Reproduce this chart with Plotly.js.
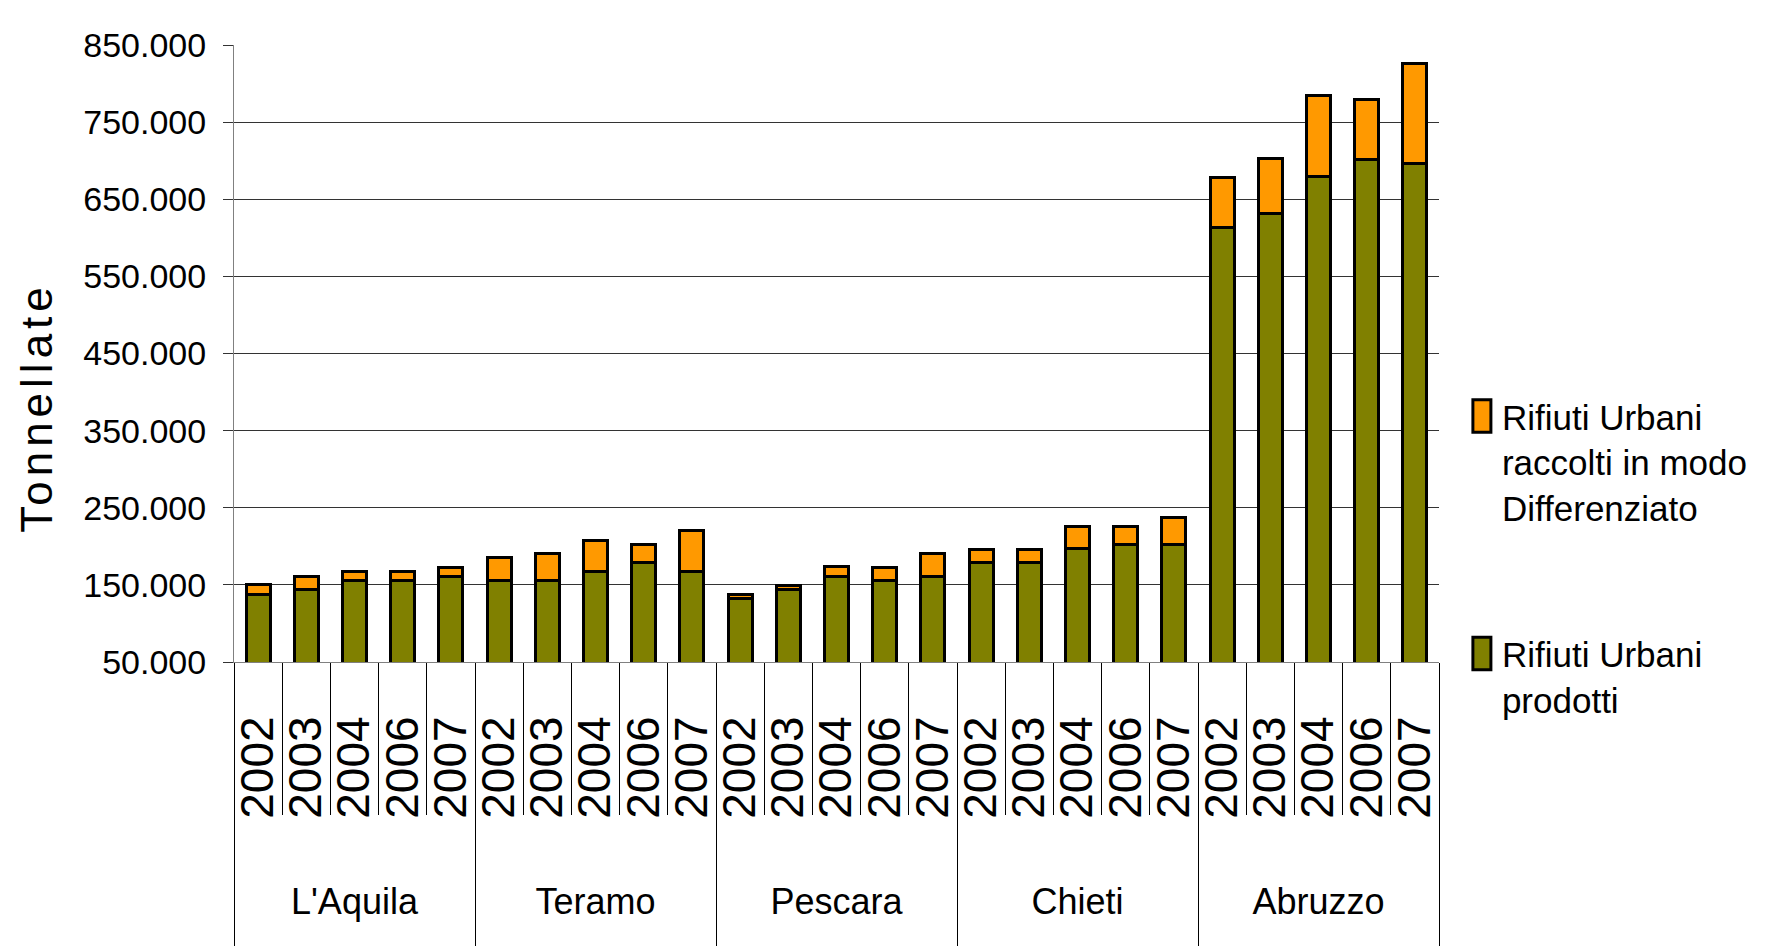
<!DOCTYPE html>
<html><head><meta charset="utf-8">
<script src="https://cdn.plot.ly/plotly-3.0.1.min.js"></script>
<style>
html,body{margin:0;padding:0;background:#fff;}
#chart{width:1773px;height:946px;}
.ytitle{letter-spacing:5px; translate:4px 54px;}
g.xtick2 text{font-size:36px !important; translate:8px 45px;}
path.xdivider{transform-box:fill-box; transform-origin:50% 0; scale:1 1.35;}
.legendpoints path{scale:1.5 2.7; translate:-10px 0; vector-effect:non-scaling-stroke; stroke-width:3px !important;}
</style>
</head><body><div id="chart"></div>
<script>
const groups = ["L'Aquila","Teramo","Pescara","Chieti","Abruzzo"];
const years = ["2002","2003","2004","2006","2007"];
// Rifiuti Urbani prodotti (t)
const prodotti = [
  138000,144000,156000,156000,161500,
  156000,156000,167500,179500,167500,
  132000,143500,161500,156000,161500,
  179500,179500,197000,203000,203000,
  613000,632000,679000,702000,697000
];
// Rifiuti Urbani raccolti in modo Differenziato (t)
const differenziato = [
  12000,17000,11000,11000,11500,
  29000,35000,40500,22500,52500,
  5000,6000,12000,17000,29000,
  17000,17000,29000,23000,35000,
  65000,70500,106000,77000,129500
];
const yTicksStart = 50000, yTicksStep = 100000, yMax = 850000;

const xGroup = [], xYear = [];
groups.forEach(g => years.forEach(y => { xGroup.push(g); xYear.push(y); }));

const FONT = '"Liberation Sans", Arial, sans-serif';

const traces = [
  {type:'bar', name:'Rifiuti Urbani<br>prodotti', x:[xGroup,xYear], y:prodotti,
   marker:{color:'#808000', line:{color:'#000', width:3}}, legendgroup:'a', legendrank:2, hoverinfo:'y'},
  {type:'bar', name:'Rifiuti Urbani<br>raccolti in modo<br>Differenziato', x:[xGroup,xYear], y:differenziato,
   marker:{color:'#FF9900', line:{color:'#000', width:3}}, legendgroup:'b', legendrank:1, hoverinfo:'y'}
];

const layout = {
  width:1773, height:946,
  margin:{l:234, r:334, t:45, b:284},
  paper_bgcolor:'#fff', plot_bgcolor:'#fff',
  barmode:'stack', bargap:0.5,
  separators:',.',
  font:{family:FONT, color:'#000', size:36},
  showlegend:true,
  legend:{x:1.019, xanchor:'left', y:0.446, yanchor:'top', traceorder:'grouped',
          tracegroupgap:98, valign:'top', font:{family:FONT, size:35, color:'#000'}, bgcolor:'rgba(0,0,0,0)'},
  xaxis:{type:'multicategory', showline:true, linecolor:'#808080', linewidth:1,
         tickmode:'linear', dtick:1,
         ticks:'outside', ticklen:152, tickcolor:'#000', tickwidth:1,
         tickangle:-90, ticklabelstandoff:35, tickfont:{family:FONT, size:46},
         showdividers:true, dividercolor:'#000', dividerwidth:1, showgrid:false},
  yaxis:{range:[yTicksStart, yMax], tick0:yTicksStart, dtick:yTicksStep, tickformat:',d',
         showgrid:true, gridcolor:'#333', gridwidth:1, zeroline:false,
         showline:true, linecolor:'#808080', linewidth:1,
         ticks:'outside', ticklen:10, tickcolor:'#333', ticklabelstandoff:10,
         tickfont:{family:FONT, size:34},
         title:{text:'Tonnellate', font:{family:FONT, size:44}, standoff:20}}
};

Plotly.newPlot('chart', traces, layout, {displayModeBar:false, staticPlot:true});
</script>
</body></html>
